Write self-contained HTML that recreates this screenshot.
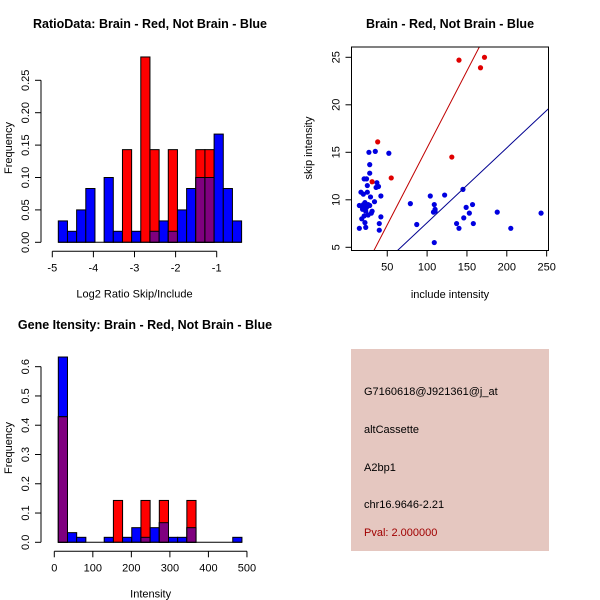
<!DOCTYPE html>
<html><head><meta charset="utf-8"><style>
html,body{margin:0;padding:0;background:#fff;}
svg{display:block;font-family:"Liberation Sans",Arial,sans-serif;}
</style></head><body>
<svg id="s" width="600" height="600" viewBox="0 0 600 600">
<rect width="600" height="600" fill="#fff"/>
<text x="150" y="28" text-anchor="middle" font-size="12.5" font-weight="bold">RatioData: Brain - Red, Not Brain - Blue</text>
<text x="450" y="28" text-anchor="middle" font-size="12.5" font-weight="bold">Brain - Red, Not Brain - Blue</text>
<text x="145" y="329" text-anchor="middle" font-size="12.5" font-weight="bold">Gene Itensity: Brain - Red, Not Brain - Blue</text>
<g>
<rect x="351" y="349" width="198" height="202" fill="#e5c7c0"/>
<text x="364" y="395" font-size="11">G7160618@J921361@j_at</text>
<text x="364" y="433" font-size="11">altCassette</text>
<text x="364" y="471" font-size="11">A2bp1</text>
<text x="364" y="508" font-size="11">chr16.9646-2.21</text>
<text x="364" y="536" font-size="11" fill="#a00000">Pval: 2.000000</text>
</g>
</svg>
<script>
// ---- Ratio histogram data ----
const ratioBinStart = -4.854;
const ratioBinWidth = 0.223;
const ratioBlue = [0.033,0.017,0.05,0.083,0,0.1,0.017,0,0.017,0,0.017,0.033,0.017,0.05,0.083,0.1,0.1,0.167,0.083,0.033];
const ratioRed  = [0,0,0,0,0,0,0,0.143,0,0.286,0.143,0,0.143,0,0,0.143,0.143,0,0,0];
const ratioXTicks = [-5,-4,-3,-2,-1];
const ratioYTicks = ["0.00","0.05","0.10","0.15","0.20","0.25"];
// ---- Intensity histogram data ----
const intBinStart = 10.4;
const intBinWidth = 23.83;
const intBlue = [0.633,0.033,0.017,0,0,0.017,0,0.017,0.05,0.017,0.05,0.067,0.017,0.017,0.05,0,0,0,0,0.017];
const intRed  = [0.429,0,0,0,0,0,0.143,0,0,0.143,0,0.143,0,0,0.143,0,0,0,0,0];
const intXTicks = [0,100,200,300,400,500];
const intYTicks = ["0.0","0.1","0.2","0.3","0.4","0.5","0.6"];
// ---- Scatter data ----
const redX = [140,172,167,38,131,55,31];
const redY = [24.7,25,23.9,16.1,14.5,12.3,11.9];
const blueX = [15,15,17,18,18,19,20,20,21,21,22,22,23,23,24,24,25,25,26,26,27,28,28,28,29,30,31,35,34,36,37,39,40,40,42,42,52,79,87,104,109,108,109,110,110,122,137,140,145,146,149,153,157,158,188,205,243];
const blueY = [7.0,9.4,10.8,8.0,9.3,9.0,10.6,9.5,8.3,12.2,9.7,7.6,7.1,8.8,12.2,9.2,10.8,11.5,9.5,8.4,15.0,13.7,12.8,9.4,10.3,8.6,8.8,15.1,9.8,11.3,11.8,11.4,7.5,6.8,10.4,8.2,14.9,9.6,7.4,10.4,5.5,8.7,9.5,9.0,8.8,10.5,7.5,7.0,11.1,8.1,9.2,8.6,9.5,7.5,8.7,7.0,8.6];
const redFit = [-0.73,0.162];   // intercept, slope
const blueFit = [-0.29,0.0788];
const scXTicks = [50,100,150,200,250];
const scYTicks = [5,10,15,20,25];

const NS="http://www.w3.org/2000/svg";
const svg=document.getElementById('s');
function mk(tag,at,parent){const e=document.createElementNS(NS,tag);for(const k in at)e.setAttribute(k,at[k]);(parent||svg).appendChild(e);return e;}

function hist(o){
  const g=mk('g',{});
  
  
  const sx=v=>o.x0+(v-o.xmin)*o.kx, sy=v=>o.y0-v*o.ky;
  for(let i=0;i<o.blue.length;i++){
    const a=o.start+i*o.w,b=a+o.w;
    const x1=sx(a),x2=sx(b),bl=o.blue[i],rd=o.red[i];
    if(bl>0){const r=mk('rect',{x:x1,y:sy(bl),width:x2-x1,height:sy(0)-sy(bl),fill:'#0000ff',stroke:'#000','stroke-width':1},g);
      
      }
    if(rd>0){const r=mk('rect',{x:x1,y:sy(rd),width:x2-x1,height:sy(0)-sy(rd),fill:'#ff0000',stroke:'#000','stroke-width':1},g);
      
      }
    const m=Math.min(bl,rd);
    if(m>0){const r=mk('rect',{x:x1,y:sy(m),width:x2-x1,height:sy(0)-sy(m),fill:'#7f007f',stroke:'#000','stroke-width':1},g);
      
      }
  }
  mk('line',{x1:sx(o.start),x2:sx(o.start+o.blue.length*o.w),y1:sy(0),y2:sy(0),stroke:'#000'},g);
  // x axis
  const ax=mk('g',{},g);
  
  
  const ay=o.y0+9;
  mk('line',{x1:sx(o.xt[0]),x2:sx(o.xt[o.xt.length-1]),y1:ay,y2:ay,stroke:'#000'},ax);
  o.xt.forEach(t=>{mk('line',{x1:sx(t),x2:sx(t),y1:ay,y2:ay+6,stroke:'#000'},ax);
    const tx=mk('text',{x:sx(t),y:ay+20,'text-anchor':'middle','font-size':11},ax);tx.textContent=t;});
  const xl=mk('text',{x:(sx(o.xt[0])+sx(o.xt[o.xt.length-1]))/2,y:o.y0+55,'text-anchor':'middle','font-size':11},g);
  
  
  xl.textContent=o.xlabel;
  // y axis
  const yx=mk('g',{},g);
  
  
  const axx=o.yaxX;
  const yv=o.yt.map(Number);
  mk('line',{x1:axx,x2:axx,y1:sy(yv[0]),y2:sy(yv[yv.length-1]),stroke:'#000'},yx);
  o.yt.forEach((t,i)=>{const y=sy(yv[i]);mk('line',{x1:axx-6,x2:axx,y1:y,y2:y,stroke:'#000'},yx);
    const tx=mk('text',{x:axx-12,y:y,'text-anchor':'middle','font-size':11,transform:`rotate(-90 ${axx-12} ${y})`},yx);tx.textContent=t;});
  const yl=mk('text',{x:12,y:o.ylabY,'text-anchor':'middle','font-size':11,transform:`rotate(-90 12 ${o.ylabY})`},g);
  
  
  yl.textContent='Frequency';
}
hist({name:'ratio-histogram',blue:ratioBlue,red:ratioRed,start:ratioBinStart,w:ratioBinWidth,xmin:-5,x0:52.3,kx:41.1,y0:242.3,ky:648,xt:ratioXTicks,yt:ratioYTicks,xlabel:'Log2 Ratio Skip/Include',yaxX:41,ylabY:148});
hist({name:'intensity-histogram',blue:intBlue,red:intRed,start:intBinStart,w:intBinWidth,xmin:0,x0:54.3,kx:0.3853,y0:542.3,ky:292.7,xt:intXTicks,yt:intYTicks,xlabel:'Intensity',yaxX:41,ylabY:448});

// scatter
(function(){
  const g=mk('g',{});
  
  
  const L=351.5,R=548.5,T=47,B=250.5;
  const sx=v=>347.4+v*0.797, sy=v=>247.3-(v-5)*9.5;
  const cp=mk('clipPath',{id:'cp'},g);mk('rect',{x:L,y:T,width:R-L,height:B-T},cp);
  const pg=mk('g',{'clip-path':'url(#cp)'},g);
  blueX.forEach((x,i)=>{const c=mk('circle',{cx:sx(x),cy:sy(blueY[i]),r:2.6,fill:'#0000e0'},pg);
    
    });
  redX.forEach((x,i)=>{const c=mk('circle',{cx:sx(x),cy:sy(redY[i]),r:2.6,fill:'#e00000'},pg);
    
    });
  [[redFit,'#c00000','red-fit-line'],[blueFit,'#000090','blue-fit-line']].forEach(([f,col,n])=>{
    const x1=0,x2=300;
    const l=mk('line',{x1:sx(x1),y1:sy(f[0]+f[1]*x1),x2:sx(x2),y2:sy(f[0]+f[1]*x2),stroke:col,'stroke-width':1},pg);
    
    });
  mk('rect',{x:L,y:T,width:R-L,height:B-T,fill:'none',stroke:'#000'},g);
  const ax=mk('g',{},g);
  
  
  scXTicks.forEach(t=>{mk('line',{x1:sx(t),x2:sx(t),y1:B,y2:B+6,stroke:'#000'},ax);
    const tx=mk('text',{x:sx(t),y:B+20,'text-anchor':'middle','font-size':11},ax);tx.textContent=t;});
  const xl=mk('text',{x:450,y:298,'text-anchor':'middle','font-size':11},g);
  
  
  xl.textContent='include intensity';
  const yx=mk('g',{},g);
  
  
  scYTicks.forEach(t=>{const y=sy(t);mk('line',{x1:L-6,x2:L,y1:y,y2:y,stroke:'#000'},yx);
    const tx=mk('text',{x:L-12,y:y,'text-anchor':'middle','font-size':11,transform:`rotate(-90 ${L-12} ${y})`},yx);tx.textContent=t;});
  const yl=mk('text',{x:312,y:148,'text-anchor':'middle','font-size':11,transform:'rotate(-90 312 148)'},g);
  
  
  yl.textContent='skip intensity';
})();
</script>
</body></html>
